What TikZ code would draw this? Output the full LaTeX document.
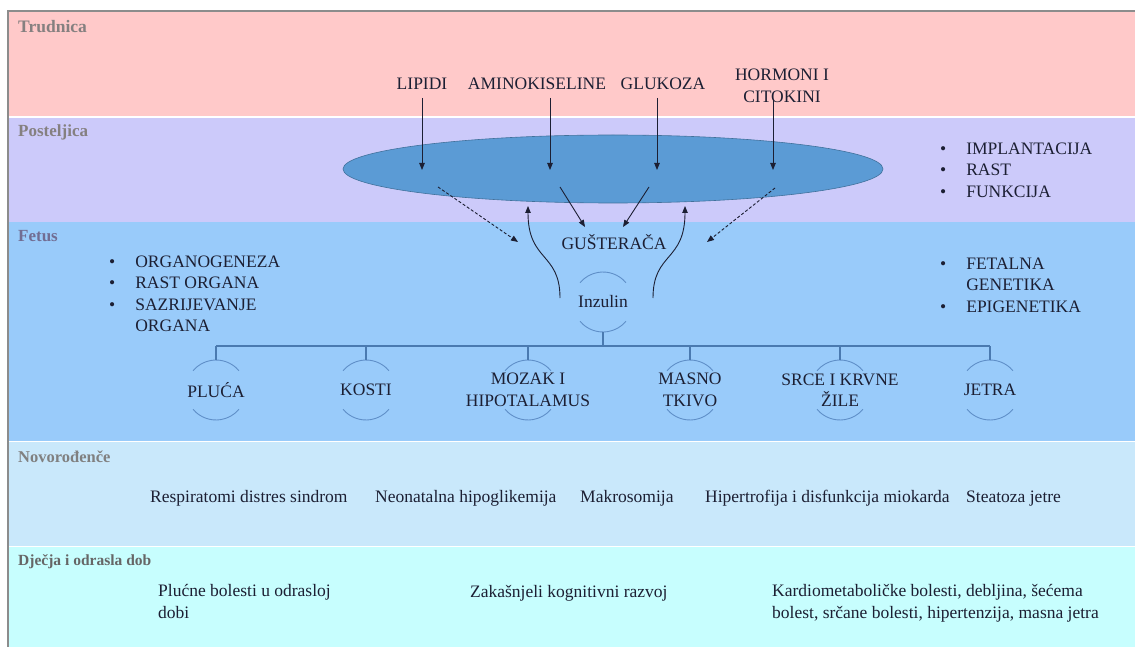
\documentclass[tikz,border=0pt]{standalone}
\usepackage{fontspec}
\setmainfont{Liberation Serif}
\usetikzlibrary{arrows.meta,shapes.geometric}
\definecolor{cTru}{HTML}{FFC9C9}
\definecolor{cPos}{HTML}{CCCAFA}
\definecolor{cFet}{HTML}{99CBFA}
\definecolor{cNov}{HTML}{C9E8FB}
\definecolor{cDje}{HTML}{C7FEFE}
\definecolor{ink}{HTML}{1C1F33}
\definecolor{lgray}{HTML}{858080}
\definecolor{plac}{HTML}{5B9BD5}
\definecolor{placb}{HTML}{41719C}
\definecolor{treec}{HTML}{4A7AB0}
\definecolor{arcc}{HTML}{5F8FC8}
\definecolor{bord}{HTML}{8C8C8C}
\begin{document}
\begin{tikzpicture}[x=1pt,y=-1pt,
  txt/.style={font=\fontsize{17.5}{21.5}\selectfont, text=ink, inner sep=0pt},
  bandlbl/.style={font=\fontsize{17}{18}\selectfont\bfseries, text=lgray, anchor=west, inner sep=0pt},
  orgc/.style={circle, minimum size=60pt, inner sep=0pt, outer sep=0pt},
  arcst/.style={draw=arcc, line width=0.9pt},
  tree/.style={draw=treec, line width=1.1pt},
  arr/.style={draw=ink, line width=0.9pt, -{Triangle[length=7pt,width=5.5pt]}},
  darr/.style={arr, dash pattern=on 3pt off 2pt}]
\useasboundingbox (0,0) rectangle (1135,647);
% bands
\fill[white] (0,0) rectangle (1135,647);
\fill[cTru] (8,11) rectangle (1135,116);
\fill[cPos] (8,118) rectangle (1135,222);
\fill[cFet] (8,222) rectangle (1135,441);
\fill[cNov] (8,442) rectangle (1135,546);
\fill[cDje] (8,547) rectangle (1135,647);
\draw[bord, line width=2pt] (8,647) -- (8,11) -- (1135,11);
% band labels
\node[bandlbl, font=\fontsize{17.5}{18}\selectfont\bfseries] (lTru) at (18,27) {Trudnica};
\node[bandlbl] (lPos) at (18,132) {Posteljica};
\node[bandlbl, text=lgray!85!blue] (lFet) at (18,236) {Fetus};
\node[bandlbl, text=gray, font=\fontsize{16.5}{18}\selectfont\bfseries] (lNov) at (18,457) {Novorođenče};
\node[bandlbl, text=black!60, font=\fontsize{15.5}{18}\selectfont\bfseries] (lDje) at (18,562) {Dječja i odrasla dob};
% placenta
\node[ellipse, fill=plac, draw=placb, line width=0.6pt, minimum width=540pt, minimum height=68pt, inner sep=0pt] (plac) at (613,169) {};
% top labels
\node[txt] (lip) at (422,84) {LIPIDI};
\node[txt] (amino) at (537,84) {AMINOKISELINE};
\node[txt] (glu) at (663,84) {GLUKOZA};
\node[txt, align=center] (horm) at (782,86) {HORMONI I\\CITOKINI};
\coordinate (t1) at (422,170);
\coordinate (t2) at (550,170);
\coordinate (t3) at (657,170);
\coordinate (t4) at (773,170);
\draw[arr] (lip) ++(0,14) -- (t1);
\draw[arr] (amino) ++(13,14) -- (t2);
\draw[arr] (glu) ++(-6,14) -- (t3);
\draw[arr] (horm) ++(-9,14) -- (t4);
% pancreas
\node[txt] (pank) at (614,242) {GUŠTERAČA};
\coordinate (d1s) at (438,187); \coordinate (d1e) at (518,242);
\coordinate (d2s) at (775,188); \coordinate (d2e) at (707,242);
\draw[darr] (d1s) -- (d1e);
\draw[darr] (d2s) -- (d2e);
\coordinate (s1s) at (560,187); \coordinate (s1e) at (585,227);
\coordinate (s2s) at (649,187); \coordinate (s2e) at (623,227);
\draw[arr] (s1s) -- (s1e);
\draw[arr] (s2s) -- (s2e);
% insulin
\node[orgc] (inz) at (603,302) {};
\node[txt] (inzT) at (603,302) {Inzulin};
\draw[arcst] (inz.40) arc[start angle=40, end angle=140, radius=30pt];
\draw[arcst] (inz.220) arc[start angle=220, end angle=320, radius=30pt];
\coordinate (cLs) at (560,298); \coordinate (cLe) at (528,206);
\coordinate (cRs) at (653,298); \coordinate (cRe) at (685,206);
\draw[arr] (cLs) .. controls (560,252) and (528,262) .. (cLe);
\draw[arr] (cRs) .. controls (653,252) and (685,262) .. (cRe);
% organs
\coordinate (bus) at (0,346);
\foreach \n/\x/\t in {pluca/216/{PLUĆA}, kosti/366/{KOSTI}, mozak/528/{MOZAK I\\HIPOTALAMUS}, masno/690/{MASNO\\TKIVO}, srce/840/{SRCE I KRVNE\\ŽILE}, jetra/990/{JETRA}}{
  \node[orgc] (\n) at (\x,390) {};
  \node[txt, align=center] (\n T) at (\x,390) {\t};
  \draw[arcst] (\n.40) arc[start angle=40, end angle=140, radius=30pt];
  \draw[arcst] (\n.220) arc[start angle=220, end angle=320, radius=30pt];
  \draw[tree] (\n.north |- bus) -- (\n.north);
}
\draw[tree] (inz.south) -- (inz.south |- bus);
\draw[tree] (pluca.north |- bus) -- (jetra.north |- bus);
% bullet lists
\node[txt, anchor=north west] (listL) at (109,252) {\begin{tabular}{@{}l@{\hspace{20pt}}l@{}}•&ORGANOGENEZA\\•&RAST ORGANA\\•&SAZRIJEVANJE\\&ORGANA\end{tabular}};
\node[txt, anchor=north west] (listP) at (940,139) {\begin{tabular}{@{}l@{\hspace{20pt}}l@{}}•&IMPLANTACIJA\\•&RAST\\•&FUNKCIJA\end{tabular}};
\node[txt, anchor=north west] (listF) at (940,254) {\begin{tabular}{@{}l@{\hspace{20pt}}l@{}}•&FETALNA\\&GENETIKA\\•&EPIGENETIKA\end{tabular}};
% newborn
\node[txt, anchor=base west] (n1) at (150,502) {Respiratomi distres sindrom};
\node[txt, anchor=base west] (n2) at (375,502) {Neonatalna hipoglikemija};
\node[txt, anchor=base west] (n3) at (580,502) {Makrosomija};
\node[txt, anchor=base west] (n4) at (705,502) {Hipertrofija i disfunkcija miokarda};
\node[txt, anchor=base west] (n5) at (966,502) {Steatoza jetre};
% childhood/adult
\node[txt, anchor=base west, align=left] (a1) at (158,618) {Plućne bolesti u odrasloj\\dobi};
\node[txt, anchor=base west] (a2) at (470,597) {Zakašnjeli kognitivni razvoj};
\node[txt, anchor=base west, align=left] (a3) at (772,618) {Kardiometaboličke bolesti, debljina, šećema\\bolest, srčane bolesti, hipertenzija, masna jetra};
\end{tikzpicture}
\end{document}
